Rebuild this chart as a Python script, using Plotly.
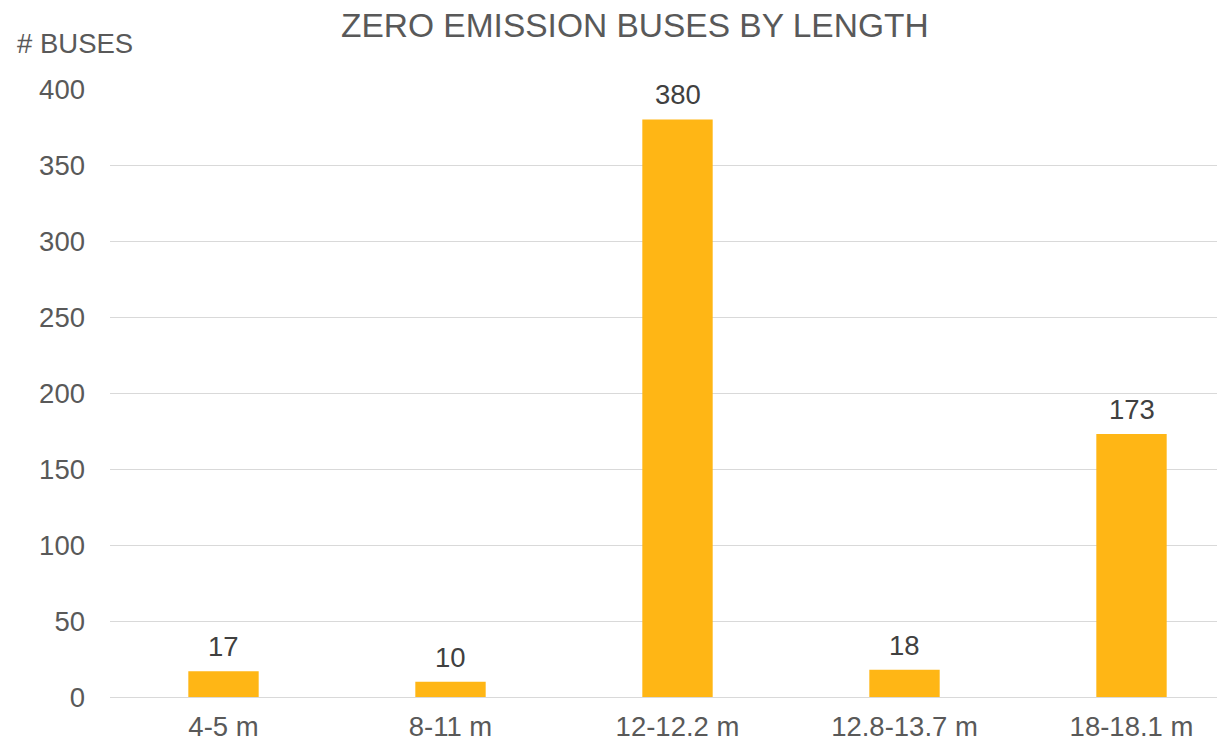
import plotly.graph_objects as go

categories = ["4-5 m", "8-11 m", "12-12.2 m", "12.8-13.7 m", "18-18.1 m"]
buses = [17, 10, 380, 18, 173]
y_ticks = [0, 50, 100, 150, 200, 250, 300, 350, 400]

FONT = "Liberation Sans, Arial, sans-serif"
GRAY = "#595959"
BAR = "#FFB615"
TS = 27.5

W, H = 1225, 744
L, R, T, B = 102, 0, 81, 55
PW, PH = W - L - R, H - T - B

fig = go.Figure()
fig.add_trace(go.Bar(
    x=list(range(len(categories))),
    y=buses,
    width=0.31,
    marker=dict(color=BAR, line=dict(width=0)),
    hoverinfo="skip",
))

for i, v in enumerate(buses):
    fig.add_annotation(
        x=i, y=v, xref="x", yref="y", text=str(v), showarrow=False,
        yanchor="bottom", yshift=7,
        font=dict(family=FONT, size=TS, color="#404040"),
    )


def px(x):
    return (x - L) / PW


def py(y):
    return (H - B - y) / PH


fig.add_annotation(
    x=px(627), y=py(18), xref="paper", yref="paper", text="ZERO EMISSION BUSES BY LENGTH",
    showarrow=False, xanchor="center", yanchor="middle",
    font=dict(family=FONT, size=33.5, color=GRAY),
)
fig.add_annotation(
    x=px(7), y=py(35), xref="paper", yref="paper",
    text="# BUSES", showarrow=False, xanchor="left", yanchor="middle",
    font=dict(family=FONT, size=TS, color=GRAY),
)

fig.update_layout(
    width=W, height=H,
    margin=dict(l=L, r=R, t=T, b=B, autoexpand=False),
    paper_bgcolor="white", plot_bgcolor="white",
    showlegend=False,
    font=dict(family=FONT, size=TS, color=GRAY),
    xaxis=dict(
        range=[-0.5, -0.5 + PW / 227],
        tickmode="array",
        tickvals=list(range(len(categories))),
        ticktext=categories,
        showgrid=False, zeroline=False, showline=False,
        ticks="", tickfont=dict(family=FONT, size=TS, color=GRAY),
        ticklabelstandoff=10,
    ),
    yaxis=dict(
        range=[0, 400],
        tickmode="array", tickvals=y_ticks,
        showgrid=True, gridcolor="#D9D9D9", gridwidth=1.3,
        zeroline=True, zerolinecolor="#D9D9D9", zerolinewidth=1.3,
        showline=False, ticks="",
        tickfont=dict(family=FONT, size=TS, color=GRAY),
        ticklabelstandoff=24,
    ),
)

fig.write_html("out.html")
